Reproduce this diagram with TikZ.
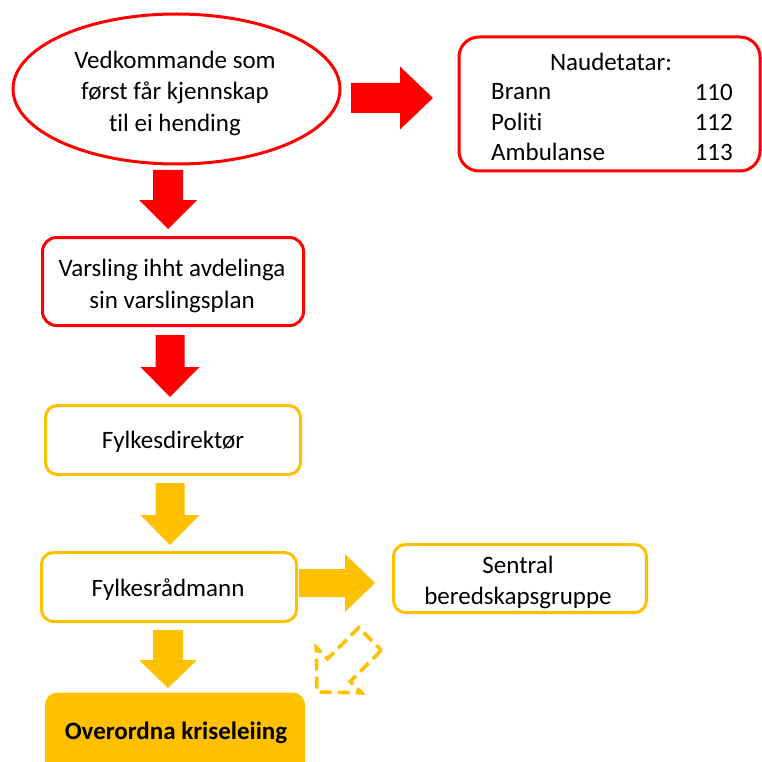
\documentclass[tikz,border=0pt]{standalone}
\usepackage{fontspec}
\setmainfont{Carlito}[Ligatures={NoCommon}]
\usetikzlibrary{shapes.geometric}
\definecolor{cred}{HTML}{FF0000}
\definecolor{corange}{HTML}{FFC000}
% #1 style, #2 x, #3 y (tail centre), #4 angle, #5 shaft length, #6 total length, #7 shaft half width, #8 head half width
\newcommand\blkarr[8]{%
  \begin{scope}[shift={(#2,#3)},rotate=#4]
    \path[#1] (0,-#7) -- (#5,-#7) -- (#5,-#8) -- (#6,0) -- (#5,#8) -- (#5,#7) -- (0,#7) -- cycle;
  \end{scope}}
\begin{document}
\begin{tikzpicture}[x=1pt,y=-1pt,
  txt/.style={font=\fontsize{25}{31.5}\selectfont, align=center, inner sep=0pt},
  redbox/.style={draw=cred, line width=3pt, rounded corners=14pt, fill=white, inner sep=0pt},
  orbox/.style={draw=corange, line width=3pt, rounded corners=12pt, fill=white, inner sep=0pt},
  redarr/.style={fill=cred},
  orarr/.style={fill=corange},
  dasharr/.style={draw=corange, line width=3.6pt, dash pattern=on 12pt off 6pt, line join=miter}]
\useasboundingbox (0,0) rectangle (762,762);

\node[ellipse, draw=cred, line width=3pt, minimum width=327pt, minimum height=150pt, inner sep=0pt] (ell) at (176.5,89) {};
\node[txt] (elltxt) at (175,93) {Vedkommande som\\først får kjennskap\\til ei hending};

\node[redbox, rounded corners=20pt, minimum width=301pt, minimum height=134pt] (naud) at (609.5,104) {};
\node[txt] (naudtitle) at (611,62) {Naudetatar:};
\node[txt, anchor=west] (brann) at (491,92) {Brann};
\node[txt, anchor=west] (politi) at (491,122) {Politi};
\node[txt, anchor=west] (amb) at (491,152) {Ambulanse};
\node[txt, anchor=east] (n110) at (733,92) {110};
\node[txt, anchor=east] (n112) at (733,122) {112};
\node[txt, anchor=east] (n113) at (733,152) {113};

\node[redbox, minimum width=261pt, minimum height=88pt] (varsl) at (173,281.5) {};
\node[txt] (varsltxt) at (172,286) {Varsling ihht avdelinga\\sin varslingsplan};

\node[orbox, minimum width=255pt, minimum height=69pt] (fdir) at (173,440) {};
\node[txt] (fdirtxt) at (173,442) {Fylkesdirektør};
\node[orbox, minimum width=255pt, minimum height=69pt] (frad) at (169,587) {};
\node[txt] (fradtxt) at (168,590) {Fylkesrådmann};
\node[orbox, minimum width=253pt, minimum height=68pt] (sentral) at (520,578.5) {};
\node[txt] (sentraltxt) at (518,582.5) {Sentral\\beredskapsgruppe};

\node[draw=corange, fill=corange, line width=1pt, rounded corners=12pt, minimum width=259pt, minimum height=80pt, inner sep=0pt] (over) at (175,733) {};
\node[txt, font=\fontsize{25}{31}\selectfont\bfseries] (overtxt) at (176,733) {Overordna kriseleiing};

% block arrows
\blkarr{redarr}{351}{98}{0}{49}{82}{15}{31.5}
\blkarr{redarr}{168}{170}{-90}{30}{59}{15}{29}
\blkarr{redarr}{170}{335}{-90}{32}{62}{14.5}{29.5}
\blkarr{orarr}{170}{483}{-90}{32}{62}{14.5}{29.5}
\blkarr{orarr}{299}{583}{0}{46}{76}{14}{29}
\blkarr{orarr}{168}{630}{-90}{30}{58}{15}{29}
\blkarr{dasharr}{370}{639}{-135}{44}{75}{16}{32}
\end{tikzpicture}
\end{document}
